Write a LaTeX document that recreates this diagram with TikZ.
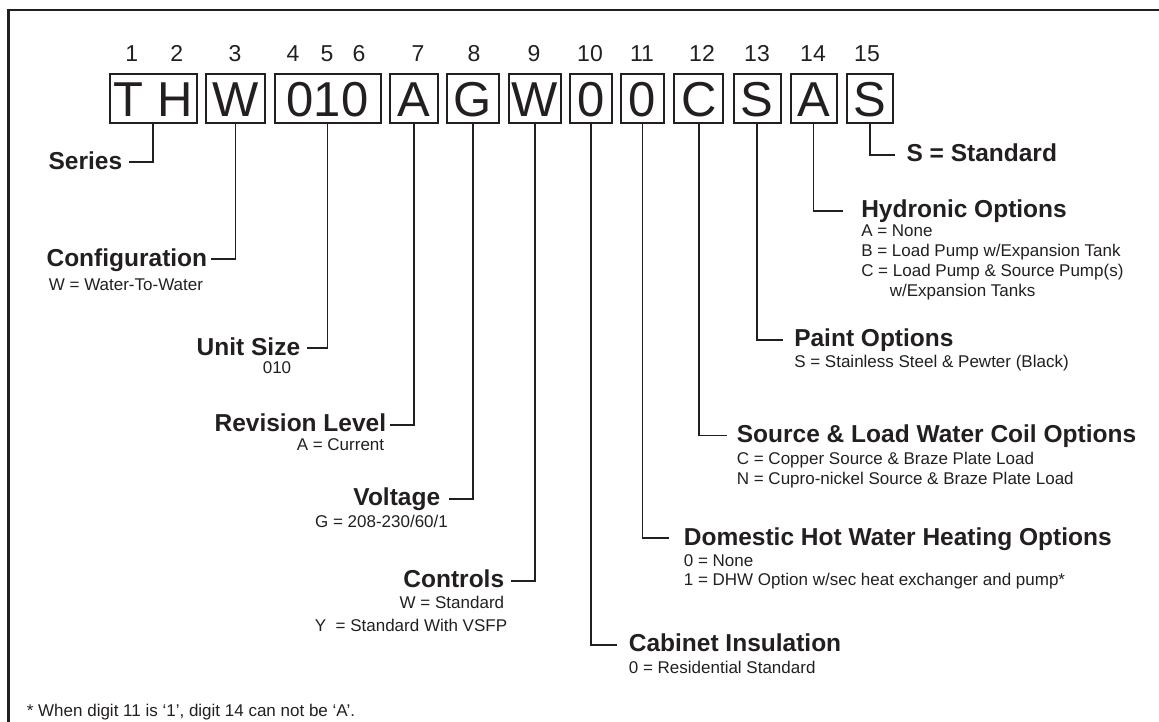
\documentclass[tikz,border=0pt]{standalone}
\usepackage{fontspec}
\setmainfont{Liberation Sans}
\definecolor{ink}{RGB}{35,31,32}
\begin{document}
\begin{tikzpicture}[x=1pt, y=-1pt, line width=1.7pt, color=ink,
  box/.style={draw, line width=2pt, inner sep=0pt, minimum height=49, text height=35pt, text depth=0pt, font=\fontsize{49}{50}\selectfont},
  digit/.style={inner sep=0pt, text height=16.5pt, text depth=0pt, font=\fontsize{23}{24}\selectfont},
  title/.style={inner sep=0pt, text height=17.5pt, text depth=4pt, font=\bfseries\fontsize{24.5}{26}\selectfont},
  sub/.style={inner sep=0pt, text height=12.2pt, text depth=0pt, font=\fontsize{17}{19}\selectfont}]
\useasboundingbox (0,0) rectangle (1159,722);
\clip (0,0) rectangle (1159,722);
\draw[line width=2.5pt] (8.5,10) rectangle (1180,740);
% digit positions
\node[digit](p1) at (131.7,53.3){1};
\node[digit](p2) at (176.7,53.3){2};
\node[digit](p3) at (235,53.3){3};
\node[digit](p4) at (293,53.3){4};
\node[digit](p5) at (327,53.3){5};
\node[digit](p6) at (359,53.3){6};
\node[digit](p7) at (418,53.3){7};
\node[digit](p8) at (474,53.3){8};
\node[digit](p9) at (534,53.3){9};
\node[digit](p10) at (590,53.3){10};
\node[digit](p11) at (642,53.3){11};
\node[digit](p12) at (702,53.3){12};
\node[digit](p13) at (757,53.3){13};
\node[digit](p14) at (813,53.3){14};
\node[digit](p15) at (867,53.3){15};
% model code
\node[box, minimum width=87](d1) at (153.3,98.8){T H};
\node[box, minimum width=59](d2) at (235.5,98.8){W};
\node[box, minimum width=106](d3) at (327.5,98.8){010};
\node[box, minimum width=48](d4) at (414.3,98.8){A};
\node[box, minimum width=52](d5) at (473,98.8){G};
\node[box, minimum width=52](d6) at (534.7,98.8){W};
\node[box, minimum width=42](d7) at (591.2,98.8){0};
\node[box, minimum width=43](d8) at (642.5,98.8){0};
\node[box, minimum width=49](d9) at (698.8,98.8){C};
\node[box, minimum width=47](d10) at (757.2,98.8){S};
\node[box, minimum width=46](d11) at (813.5,98.8){A};
\node[box, minimum width=46](d12) at (869.9,98.8){S};
% left side
\node[title, anchor=east](series) at (123,162.3){Series};
\node[title, anchor=east](config) at (208,259.3){Configuration};
\node[sub, anchor=west](config1) at (48,284){W = Water-To-Water};
\node[title, anchor=east](size) at (301,348.3){Unit Size};
\node[sub](size1) at (277,367){010};
\node[title, anchor=east](revision) at (387,425){Revision Level};
\node[sub, anchor=east](revision1) at (385,444){A = Current};
\node[title, anchor=east](voltage) at (441,499){Voltage};
\node[sub](voltage1) at (381.5,521){G = 208-230/60/1};
\node[title, anchor=east](controls) at (505,581){Controls};
\node[sub, anchor=east](controls1) at (505,602.7){W = Standard};
\node[sub, anchor=east](controls2) at (508,625){Y\ \ = Standard With VSFP};
% right side
\node[title, anchor=west](standard) at (905.7,155){S = Standard};
\node[title, anchor=west](hydronic) at (860.4,210.7){Hydronic Options};
\node[sub, anchor=west](hydronic1) at (860.4,230.7){A = None};
\node[sub, anchor=west](hydronic2) at (860.4,250.7){B = Load Pump w/Expansion Tank};
\node[sub, anchor=west](hydronic3) at (860.4,270.7){C = Load Pump \& Source Pump(s)};
\node[sub, anchor=west](hydronic4) at (889,290){w/Expansion Tanks};
\node[title, anchor=west](paint) at (793.4,340){Paint Options};
\node[sub, anchor=west](paint1) at (793.4,361.7){S = Stainless Steel \& Pewter (Black)};
\node[title, anchor=west](coil) at (736,435.5){Source \& Load Water Coil Options};
\node[sub, anchor=west](coil1) at (736,458){C = Copper Source \& Braze Plate Load};
\node[sub, anchor=west](coil2) at (736,478){N = Cupro-nickel Source \& Braze Plate Load};
\node[title, anchor=west](dhw) at (683,538.3){Domestic Hot Water Heating Options};
\node[sub, anchor=west](dhw1) at (683,560){0 = None};
\node[sub, anchor=west](dhw2) at (683,579){1 = DHW Option w/sec heat exchanger and pump*};
\node[title, anchor=west](cabinet) at (628,645){Cabinet Insulation};
\node[sub, anchor=west](cabinet1) at (628,667){0 = Residential Standard};
\node[sub, anchor=west](note) at (26,710.7){* When digit 11 is ‘1’, digit 14 can not be ‘A’.};
% connectors
\draw (d1.south) |- ([xshift=6pt]series.east);
\draw (d2.south) |- ([xshift=3pt]config.east);
\draw (d3.south) |- ([xshift=6pt]size.east);
\draw (d4.south) |- ([xshift=3pt]revision.east);
\draw (d5.south) |- ([xshift=7.5pt]voltage.east);
\draw (d6.south) |- ([xshift=6pt]controls.east);
\draw (d7.south) |- ([xshift=-10.6pt]cabinet.west);
\draw (d8.south) |- ([xshift=-14pt]dhw.west);
\draw (d9.south) |- ([xshift=-9.5pt]coil.west);
\draw (d10.south) |- ([xshift=-10.7pt]paint.west);
\draw (d11.south) |- ([xshift=-17.4pt]hydronic.west);
\draw (d12.south) |- ([xshift=-10.3pt]standard.west);
\end{tikzpicture}
\end{document}
